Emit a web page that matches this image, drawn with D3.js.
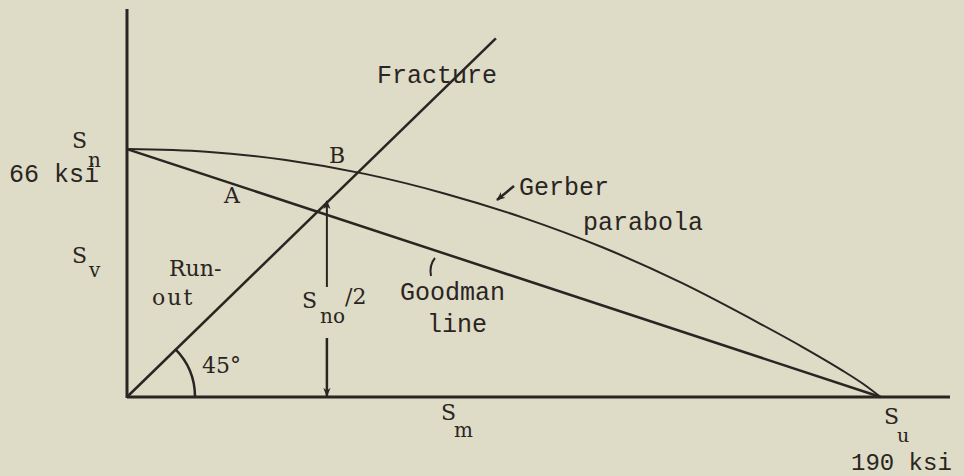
<!DOCTYPE html>
<html>
<head>
<meta charset="utf-8">
<script src="https://cdn.jsdelivr.net/npm/d3@7"></script>
<style>
  html, body { margin: 0; padding: 0; background: #dedbc6; }
  svg { display: block; }
  .mono { font-family: "Liberation Mono", "DejaVu Sans Mono", monospace; fill: #2a2522; }
  .serif { font-family: "DejaVu Serif", "Liberation Serif", serif; fill: #2a2522; }
</style>
</head>
<body>
<svg id="chart" width="964" height="476"></svg>
<script>
"use strict";

/*** data (ksi) ***/
var Sn = 66;          // endurance strength
var Su = 190;         // ultimate strength

// goodman line: straight from Sn to Su
var goodmanSm = [0, 190];
var goodmanSa = [66, 0];

// gerber parabola, points
var gerberSm = [0, 20, 40, 60, 80, 100, 120, 140, 160, 170, 180, 186, 190];
var gerberSa = [66, 65.3, 63.1, 59.4, 54.2, 47.7, 39.8, 30.3, 19.3, 13.5, 7.3, 3.2, 0];

// 45 deg fracture line from origin
var fractureSm = [0, 93];
var fractureSa = [0, 95.5];

// Sno/2 arrow position on the Sm axis
var arrowSm = 50.4;

/*** scales ***/
var svg = d3.select("#chart");
var ink = "#2a2522";

var x = d3.scaleLinear().domain([0, 207.5]).range([127, 950]);
var y = d3.scaleLinear().domain([0, 103.3]).range([397, 9]);

var zip = function(a, b) { return a.map(function(v, i) { return [v, b[i]]; }); };
var line = d3.line().x(function(d) { return x(d[0]); }).y(function(d) { return y(d[1]); });

// arrow head marker
svg.append("defs").append("marker")
  .attr("id", "head")
  .attr("viewBox", "0 0 10 10")
  .attr("refX", 9).attr("refY", 5)
  .attr("markerWidth", 9).attr("markerHeight", 14)
  .attr("markerUnits", "userSpaceOnUse")
  .attr("orient", "auto")
  .append("path")
  .attr("d", "M0,1 L10,5 L0,9 L3,5 Z")
  .attr("fill", ink);

/*** axes (bare lines, no ticks) ***/
svg.append("line")
  .attr("x1", x(0)).attr("x2", x(0))
  .attr("y1", y(0) + 1).attr("y2", y.range()[1])
  .attr("stroke", ink).attr("stroke-width", 3);

svg.append("line")
  .attr("x1", x(0)).attr("x2", x.range()[1])
  .attr("y1", y(0)).attr("y2", y(0))
  .attr("stroke", ink).attr("stroke-width", 3);

/*** curves ***/
svg.append("path")
  .attr("d", line(zip(goodmanSm, goodmanSa)))
  .attr("fill", "none").attr("stroke", ink).attr("stroke-width", 2.5);

svg.append("path")
  .attr("d", d3.line().x(function(d) { return x(d[0]); }).y(function(d) { return y(d[1]); })
    .curve(d3.curveMonotoneX)(zip(gerberSm, gerberSa)))
  .attr("fill", "none").attr("stroke", ink).attr("stroke-width", 2);

svg.append("path")
  .attr("d", line(zip(fractureSm, fractureSa)))
  .attr("fill", "none").attr("stroke", ink).attr("stroke-width", 2.5);

// 45 deg arc
svg.append("path")
  .attr("transform", "translate(" + x(0) + "," + y(0) + ")")
  .attr("d", d3.arc()({ innerRadius: 68, outerRadius: 68, startAngle: Math.PI / 4, endAngle: Math.PI / 2 }))
  .attr("fill", "none").attr("stroke", ink).attr("stroke-width", 2.5);

// Sno/2 arrows
svg.append("line")
  .attr("x1", x(arrowSm)).attr("x2", x(arrowSm))
  .attr("y1", 287).attr("y2", 201)
  .attr("stroke", ink).attr("stroke-width", 2)
  .attr("marker-end", "url(#head)");

svg.append("line")
  .attr("x1", x(arrowSm)).attr("x2", x(arrowSm))
  .attr("y1", 338).attr("y2", y(0) - 1)
  .attr("stroke", ink).attr("stroke-width", 2.5)
  .attr("marker-end", "url(#head)");

// gerber pointer
svg.append("line")
  .attr("x1", 514).attr("y1", 186).attr("x2", 497).attr("y2", 200)
  .attr("stroke", ink).attr("stroke-width", 2.5)
  .attr("marker-end", "url(#head)");

// goodman pointer (small hooked tick)
svg.append("path")
  .attr("d", "M431,276 Q429,265 435,258")
  .attr("fill", "none").attr("stroke", ink).attr("stroke-width", 2);

/*** labels ***/
var mono = function(t, px, py) {
  return svg.append("text").attr("class", "mono")
    .attr("x", px).attr("y", py)
    .attr("font-size", 25).text(t);
};
var serif = function(t, px, py, size) {
  return svg.append("text").attr("class", "serif")
    .attr("x", px).attr("y", py)
    .attr("font-size", size || 22).text(t);
};

mono("Fracture", 377, 83);
mono("Gerber", 519, 195);
mono("parabola", 583, 230);
mono("Goodman", 400, 300);
mono("line", 427, 332);
mono("66 ksi", 9, 182);
mono("190 ksi", 851, 470).attr("font-size", 24);

serif("S", 72, 148);
serif("n", 88, 167, 20);
serif("S", 72, 263);
serif("v", 89, 277, 20);
serif("Run-", 169, 276);
serif("out", 152, 305).attr("letter-spacing", 2);
serif("A", 224, 203);
serif("B", 329, 163);
serif("S", 302, 308);
serif("no", 320, 323, 20);
serif("/2", 345, 304);
serif("45°", 202, 373);
serif("S", 441, 420);
serif("m", 454, 437, 20);
serif("S", 884, 424);
serif("u", 897, 442, 19);
</script>
</body>
</html>
